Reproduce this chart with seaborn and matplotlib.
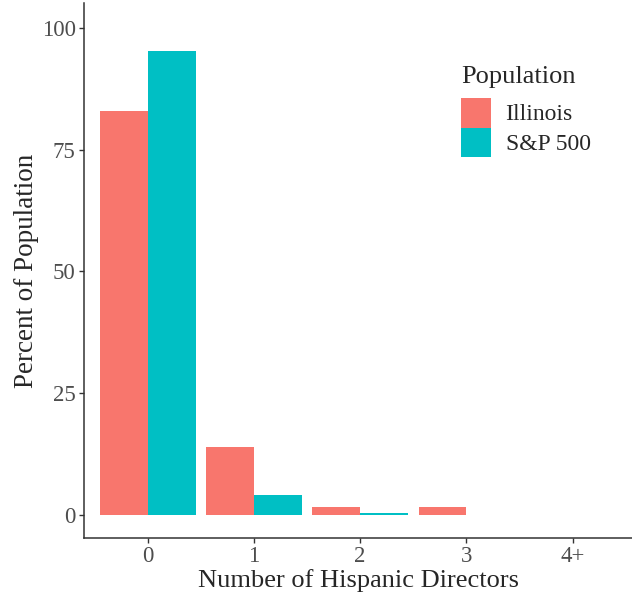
import pandas as pd
import matplotlib
matplotlib.use("Agg")
import matplotlib.pyplot as plt
import matplotlib.patches as mpatches
import seaborn as sns

# data
directors = ["0", "1", "2", "3", "4+"]
illinois = [83.0, 14.0, 1.6, 1.6, 0.0]
sp500 = [95.3, 4.2, 0.5, 0.0, 0.0]
groups = ["Illinois", "S&P 500"]
colors = ["#F8766D", "#00BFC4"]

df = pd.DataFrame({
    "directors": directors * 2,
    "pct": illinois + sp500,
    "Population": [groups[0]] * len(directors) + [groups[1]] * len(directors),
})

sns.set_theme(style="ticks")
plt.rcParams["font.family"] = ["Liberation Serif", "DejaVu Serif"]

fig = plt.figure(figsize=(6.32, 5.92), dpi=100)
ax = fig.add_axes([84 / 632, 1 - 538 / 592, 548 / 632, 535 / 592])

sns.barplot(data=df, x="directors", y="pct", hue="Population", order=directors,
            hue_order=groups, palette=colors, width=0.9, saturation=1,
            linewidth=0, legend=False, ax=ax)

ax.set_xlim(-0.6, 4.56)
ax.set_ylim(-4.7, 105.1)
ax.set_yticks([0, 25, 50, 75, 100])
ax.set_xlabel("Number of Hispanic Directors", fontsize=19, labelpad=1)
ax.set_ylabel("Percent of Population", fontsize=19.5, labelpad=2)
ax.tick_params(labelsize=16.5, labelcolor="#4D4D4D", color="#333333",
               length=3.5, width=1, pad=2.5)

for side in ["top", "right"]:
    ax.spines[side].set_visible(False)
for side in ["left", "bottom"]:
    ax.spines[side].set_color("#333333")
    ax.spines[side].set_linewidth(1.1)

# legend: title as separate text so the keys can touch each other
fig.text(461 / 632, 1 - 83 / 592, "Population", fontsize=19, ha="left",
         va="baseline")
handles = [mpatches.Patch(color=c, label=g, linewidth=0) for g, c in zip(groups, colors)]
leg = ax.legend(handles=handles, frameon=False,
                loc="upper left", bbox_to_anchor=(452 / 632, 1 - 88.5 / 592),
                bbox_transform=fig.transFigure, fontsize=17,
                handlelength=1.27, handleheight=1.55, handletextpad=0.6,
                labelspacing=0.0, borderaxespad=0)

fig.savefig("out.png", dpi=100)
